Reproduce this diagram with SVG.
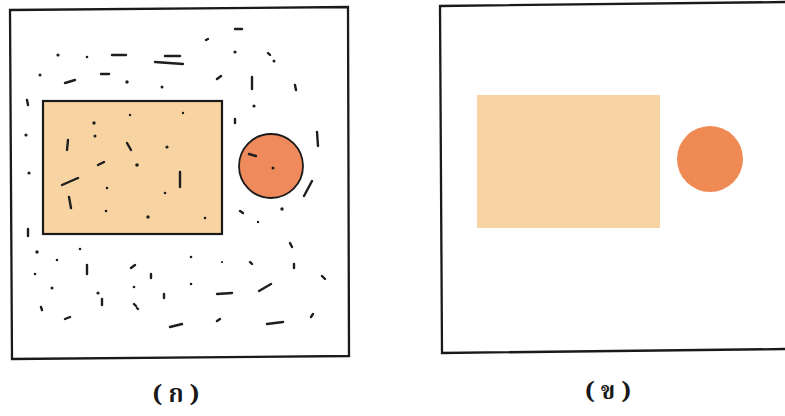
<svg xmlns="http://www.w3.org/2000/svg" width="785" height="416" viewBox="0 0 785 416">
<style>
.frame{fill:none;stroke:#1a1a1a;stroke-width:2.3}
.m{stroke:#1e1e1e;stroke-width:2.4;stroke-linecap:round;fill:none}
.d{fill:#1e1e1e}
.lbl{font-family:"Noto Serif Thai","Noto Sans Thai","DejaVu Sans","Liberation Sans",sans-serif;font-size:24px;font-weight:bold;fill:#1a1a1a;text-anchor:middle}
</style>
<rect width="785" height="416" fill="#ffffff"/>
<g id="panel-a">
<polygon class="frame" points="10,10 348,7 349,356 12,359"/>
<g id="rect-a"><rect x="43" y="101" width="179" height="133" fill="#F8D4A2" stroke="#1a1a1a" stroke-width="2.2"/></g>
<g id="circle-a"><circle cx="271" cy="166" r="32" fill="#EE8A5C" stroke="#1a1a1a" stroke-width="1.8"/></g>
<g id="marks-a">
<path class="m" d="M235,29h7 M206,40l2,-1 M112,55h14 M165,56h15 M155,62l28,2 M101,74h8 M65,83l10,-3 M217,79l4,-3 M252,77v12 M295,85l1,5 M27,100l1,5 M235,119v4 M317,132l1,14 M304,196l8,-15 M68,140l-1,10 M127,143l4,7 M98,165l6,-3 M62,185l16,-7 M180,172v15 M249,154l7,2 M69,197l2,11 M28,229v7 M87,265v9 M131,268l4,-3 M151,274v4 M250,262l2,2 M290,243l2,4 M294,264v4 M322,276l3,3 M102,299v6 M164,294v4 M217,294l15,-1 M259,291l12,-7 M41,307l1,3 M134,304l2,2 M137,308l1,1 M65,319l5,-2 M170,327l12,-3 M217,321l3,-2 M267,324l16,-2 M311,317l2,-3 M268,53l2,2 M240,211l3,2"/>
<circle class="d" cx="58" cy="55" r="1.6"/><circle class="d" cx="87" cy="57" r="1.3"/><circle class="d" cx="235" cy="52" r="1.6"/><circle class="d" cx="274" cy="61" r="1.5"/>
<circle class="d" cx="40" cy="75" r="1.5"/><circle class="d" cx="127" cy="82" r="1.7"/><circle class="d" cx="162" cy="87" r="1.5"/><circle class="d" cx="254" cy="106" r="1.6"/>
<circle class="d" cx="26" cy="135" r="1.6"/><circle class="d" cx="29" cy="173" r="1.6"/><circle class="d" cx="130" cy="115" r="1.2"/><circle class="d" cx="183" cy="113" r="1.2"/>
<circle class="d" cx="94" cy="123" r="1.7"/><circle class="d" cx="95" cy="136" r="1.5"/><circle class="d" cx="167" cy="147" r="1.6"/><circle class="d" cx="137" cy="165" r="1.8"/>
<circle class="d" cx="107" cy="188" r="1.3"/><circle class="d" cx="165" cy="193" r="1.3"/><circle class="d" cx="273" cy="168" r="1.5"/><circle class="d" cx="106" cy="211" r="1.3"/>
<circle class="d" cx="148" cy="217" r="1.7"/><circle class="d" cx="205" cy="218" r="1.3"/><circle class="d" cx="282" cy="209" r="1.7"/><circle class="d" cx="258" cy="222" r="1.2"/>
<circle class="d" cx="37" cy="252" r="1.7"/><circle class="d" cx="80" cy="249" r="1.3"/><circle class="d" cx="57" cy="260" r="1.3"/><circle class="d" cx="35" cy="274" r="1.3"/>
<circle class="d" cx="191" cy="257" r="1.3"/><circle class="d" cx="222" cy="262" r="1.1"/><circle class="d" cx="52" cy="288" r="1.5"/><circle class="d" cx="98" cy="293" r="1.6"/>
<circle class="d" cx="134" cy="287" r="1.3"/><circle class="d" cx="191" cy="284" r="1.3"/>
</g>
<text class="lbl" x="176" y="402">( ก )</text>
</g>
<g id="panel-b">
<polyline class="frame" points="786,2 440,6 442,353 786,349"/>
<g id="rect-b"><rect x="477" y="95" width="183" height="133" fill="#F8D3A3"/></g>
<g id="circle-b"><circle cx="710" cy="159" r="33" fill="#EF8A55"/></g>
<text class="lbl" x="608" y="399">( ข )</text>
</g>
</svg>
